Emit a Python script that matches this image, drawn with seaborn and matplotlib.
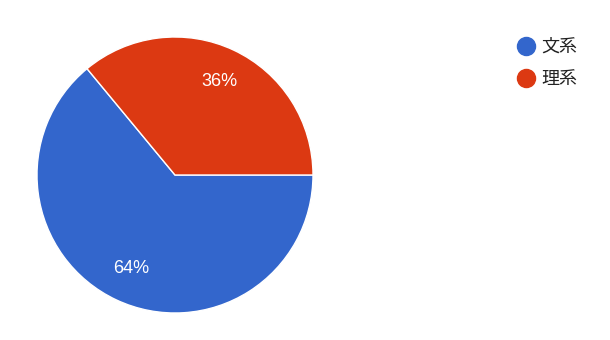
import matplotlib
matplotlib.use("Agg")
import matplotlib.pyplot as plt
from matplotlib.lines import Line2D
import seaborn as sns

categories = ["文系", "理系"]
values = [64, 36]
colors = ["#3366CC", "#DC3912"]

sns.set_style("white")
plt.rcParams['font.family'] = ['Noto Sans CJK JP', 'DejaVu Sans']

fig = plt.figure(figsize=(6.1, 3.4), dpi=100)
ax = fig.add_axes([37/610, 27/340, 276/610, 276/340])
wedges, texts, autotexts = ax.pie(
    values, colors=colors, startangle=0, counterclock=False,
    autopct=lambda p: f"{p:.0f}%", pctdistance=0.75,
    wedgeprops=dict(edgecolor="white", linewidth=1),
    textprops=dict(color="white", fontsize=13, family=["Liberation Sans", "DejaVu Sans"]),
)
ax.set_xlim(-1, 1)
ax.set_ylim(-1, 1)
ax.set_aspect("equal")

handles = [Line2D([0], [0], marker="o", linestyle="", markersize=13,
                  markerfacecolor=c, markeredgecolor=c) for c in colors]
leg = fig.legend(handles, categories, loc="upper left",
                 bbox_to_anchor=(515/610, 1 - 38/340), frameon=False,
                 fontsize=13, handletextpad=0.25, labelspacing=0.8,
                 handlelength=1.2, borderaxespad=0, borderpad=0)
for t in leg.get_texts():
    t.set_color("#222222")

fig.savefig("out.png", dpi=100)
